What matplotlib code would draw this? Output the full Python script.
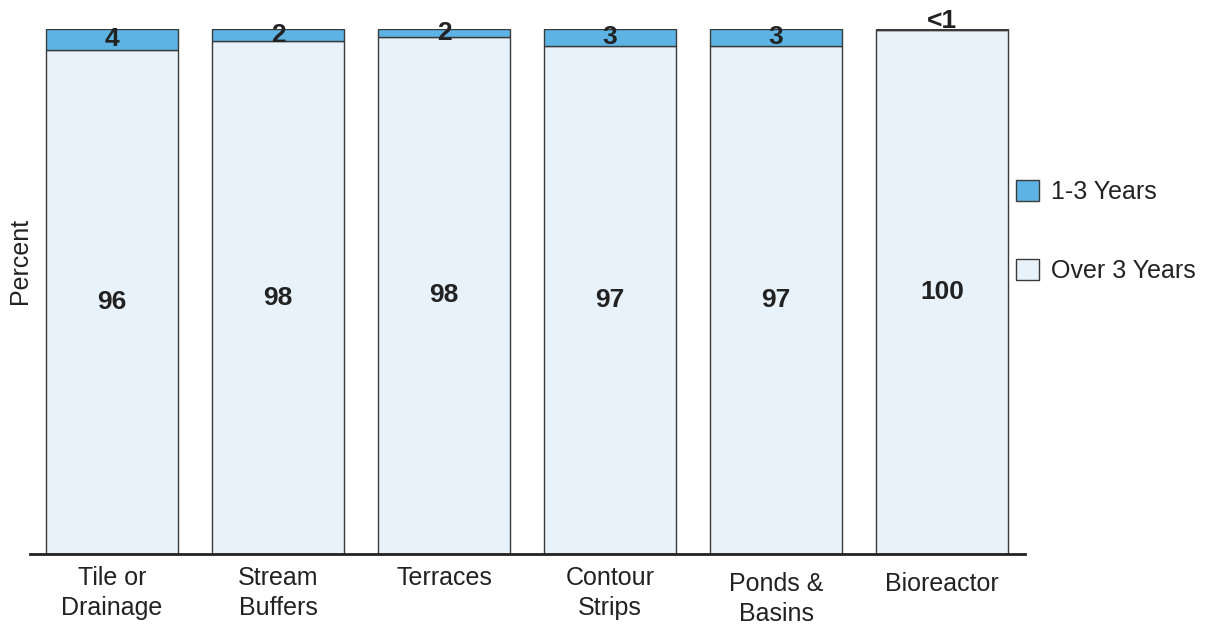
import matplotlib
matplotlib.use("Agg")
import matplotlib.pyplot as plt
from matplotlib.patches import Patch
import matplotlib.transforms as mtransforms

plt.rcParams['font.family'] = ['Liberation Sans', 'DejaVu Sans']

categories = ["Tile or\nDrainage", "Stream\nBuffers", "Terraces", "Contour\nStrips", "Ponds &\nBasins", "Bioreactor"]
over3 = [96, 97.7, 98.5, 96.8, 96.8, 99.9]
one3 = [4, 2.3, 1.5, 3.2, 3.2, 0.1]
over3_labels = ["96", "98", "98", "97", "97", "100"]
one3_labels = ["4", "2", "2", "3", "3", "<1"]
label_drop = [0, 0, 0, 0, 6, 6]  # px extra offset for category labels

c_top = "#5DB3E3"
c_bot = "#E8F2FB"
edge = "#3a3a3a"

fig = plt.figure(figsize=(12.05, 6.24), dpi=100)
ax = fig.add_axes([30/1205, 70/624, 995/1205, 525/624])
x = list(range(len(categories)))
w = 132/166
ax.bar(x, over3, width=w, color=c_bot, edgecolor=edge, linewidth=1.0)
ax.bar(x, one3, bottom=over3, width=w, color=c_top, edgecolor=edge, linewidth=1.0)
ax.set_xlim(-0.494, 5.5)
ax.set_ylim(0, 100)
for s in ["left", "right", "top"]:
    ax.spines[s].set_visible(False)
ax.spines["bottom"].set_linewidth(2)
ax.spines["bottom"].set_color("#222222")
ax.set_xticks([])
ax.set_yticks([])

for i in x:
    ax.text(i, over3[i] / 2, over3_labels[i], ha="center", va="center",
            fontsize=19, fontweight="bold", color="#222222")
    if one3[i] >= 1:
        ty = over3[i] + one3[i] / 2
    else:
        ty = 101.6
    ax.text(i, ty, one3_labels[i], ha="center", va="center",
            fontsize=19, fontweight="bold", color="#222222", clip_on=False)
    trans = mtransforms.blended_transform_factory(ax.transData, ax.transAxes) + \
        mtransforms.ScaledTranslation(0, -(12 + label_drop[i]) / 100, fig.dpi_scale_trans)
    ax.text(i, 0, categories[i], ha="center", va="top", fontsize=18,
            color="#222222", transform=trans, linespacing=1.3)

fig.text(20/1205, 1 - 261/624, "Percent", rotation=90, ha="center", va="center",
         fontsize=18, color="#222222")

handles = [Patch(facecolor=c_top, edgecolor=edge, label="1-3 Years"),
           Patch(facecolor=c_bot, edgecolor=edge, label="Over 3 Years")]
fig.legend(handles=handles, loc="upper left", bbox_to_anchor=(1016/1205, 1 - 180/624),
           frameon=False, fontsize=18, handlelength=0.9, handleheight=0.9,
           labelspacing=2.2, handletextpad=0.5, labelcolor="#222222",
           borderpad=0, borderaxespad=0)

fig.savefig("out.png", dpi=100)
